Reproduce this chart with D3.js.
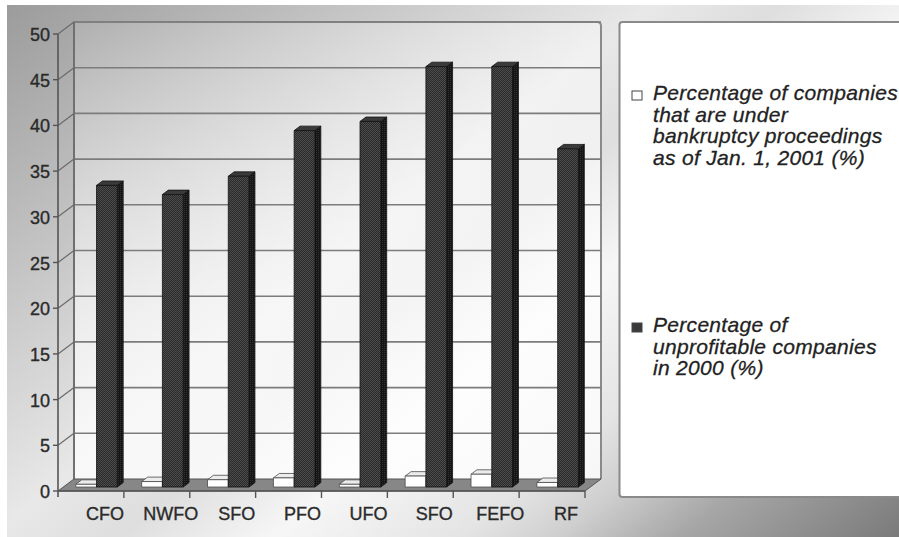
<!DOCTYPE html>
<html>
<head>
<meta charset="utf-8">
<script src="https://cdn.jsdelivr.net/npm/d3@7"></script>
<style>
  body { margin: 0; background: #ffffff; }
  svg { display: block; }
</style>
</head>
<body>
<svg id="chart" width="899" height="537"></svg>
<script>
// Federal districts and the Russian Federation total
const categories = ["CFO", "NWFO", "SFO", "PFO", "UFO", "SFO", "FEFO", "RF"];
// Companies under bankruptcy proceedings as of Jan. 1, 2001 (%)
const bankruptcyPct = [0.3, 0.6, 0.8, 1.0, 0.3, 1.2, 1.4, 0.5];
// Unprofitable companies in 2000 (%)
const unprofitablePct = [33, 32, 34, 39, 40, 46, 46, 37];
const yTicks = [0, 5, 10, 15, 20, 25, 30, 35, 40, 45, 50];
const legendLines = [
  ["Percentage of companies", "that are under", "bankruptcy proceedings", "as of Jan. 1, 2001 (%)"],
  ["Percentage of", "unprofitable companies", "in 2000 (%)"]
];

const svg = d3.select("#chart");
const W = 899, H = 537;
const FONT = "'Liberation Sans', Arial, sans-serif";

// 3-D box: front plane plus a depth offset toward the back wall
const DX = 16, DY = -12;
const frontLeft = 58, frontRight = 585;
const y = d3.scaleLinear().domain([0, 50]).range([491, 34]);
const x0 = d3.scaleBand().domain(d3.range(categories.length)).range([frontLeft, frontRight]).padding(0);
const x1 = d3.scaleBand().domain([0, 1]).range([12.5, 54]).padding(0);
const zFront = 0.33, zBack = 0.70;

const defs = svg.append("defs");

// page background: diagonal grey sheen
const bg = defs.append("linearGradient").attr("id", "bgGrad")
  .attr("gradientUnits", "userSpaceOnUse")
  .attr("x1", 0).attr("y1", 0).attr("x2", 615).attr("y2", 766);
[[0, "#9a9a9a"], [0.14, "#b4b4b4"], [0.3, "#d2d2d2"], [0.42, "#e8e8e8"],
 [0.5, "#dedede"], [0.6, "#f6f6f6"], [0.72, "#e4e4e4"], [0.78, "#cfcfcf"],
 [0.86, "#a6a6a6"], [1, "#7a7a7a"]].forEach(([o, c]) =>
  bg.append("stop").attr("offset", o).attr("stop-color", c));

// back wall: whitening toward the floor
const wall = defs.append("linearGradient").attr("id", "wallGrad")
  .attr("x1", 0).attr("y1", 0).attr("x2", 0.35).attr("y2", 1);
wall.append("stop").attr("offset", 0).attr("stop-color", "#ffffff").attr("stop-opacity", 0.1);
wall.append("stop").attr("offset", 0.6).attr("stop-color", "#ffffff").attr("stop-opacity", 0.6);
wall.append("stop").attr("offset", 1).attr("stop-color", "#ffffff").attr("stop-opacity", 0.8);

// dithered fill for the dark bars
const pf = defs.append("pattern").attr("id", "darkFront")
  .attr("patternUnits", "userSpaceOnUse").attr("width", 2).attr("height", 2);
pf.append("rect").attr("width", 2).attr("height", 2).attr("fill", "#2a2a2a");
pf.append("rect").attr("width", 1).attr("height", 1).attr("fill", "#4c4c4c");
pf.append("rect").attr("x", 1).attr("y", 1).attr("width", 1).attr("height", 1).attr("fill", "#4c4c4c");
const ps = defs.append("pattern").attr("id", "darkSide")
  .attr("patternUnits", "userSpaceOnUse").attr("width", 2).attr("height", 2);
ps.append("rect").attr("width", 2).attr("height", 2).attr("fill", "#161616");
ps.append("rect").attr("width", 1).attr("height", 1).attr("fill", "#303030");

// background
svg.append("rect").attr("width", W).attr("height", H).attr("fill", "#ffffff");
svg.append("rect").attr("x", 7).attr("y", 5).attr("width", W - 7).attr("height", H - 5)
  .attr("fill", "url(#bgGrad)");

// back wall
const wallX0 = frontLeft + DX, wallX1 = frontRight + DX;
const wallTop = y(50) + DY, wallBottom = y(0) + DY;
svg.append("path")
  .attr("d", `M${wallX0},${wallBottom} V${wallTop} H${wallX1 - 4} Q${wallX1},${wallTop} ${wallX1},${wallTop + 4} V${wallBottom}`)
  .attr("fill", "url(#wallGrad)")
  .attr("stroke", "#8a8a8a").attr("stroke-width", 2);

// gridlines on the back wall and their diagonals on the side wall
const grid = svg.append("g");
yTicks.filter(v => v > 0).forEach(v => {
  const yf = y(v);
  grid.append("line").attr("x1", wallX0).attr("x2", wallX1)
    .attr("y1", yf + DY).attr("y2", yf + DY)
    .attr("stroke", "#7c7c7c").attr("stroke-width", 1.6);
  grid.append("line").attr("x1", frontLeft).attr("y1", yf)
    .attr("x2", frontLeft + DX).attr("y2", yf + DY)
    .attr("stroke", "#6a6a6a").attr("stroke-width", 1.2);
});
svg.append("line").attr("x1", wallX0).attr("x2", wallX0)
  .attr("y1", wallTop).attr("y2", wallBottom)
  .attr("stroke", "#6a6a6a").attr("stroke-width", 1.6);

// floor
svg.append("path")
  .attr("d", `M${frontLeft},${y(0)} L${frontRight},${y(0)} L${frontRight + DX},${y(0) + DY} L${frontLeft + DX},${y(0) + DY} Z`)
  .attr("fill", "#878787").attr("stroke", "#555").attr("stroke-width", 1);

// bars
const seriesData = [bankruptcyPct, unprofitablePct];
const styles = [
  { front: "#ffffff", side: "#cfcfcf", top: "#ececec", stroke: "#4a4a4a" },
  { front: "url(#darkFront)", side: "url(#darkSide)", top: "#3a3a3a", stroke: "#111111" }
];
const barsG = svg.append("g");
categories.forEach((c, i) => {
  seriesData.forEach((vals, s) => {
    const v = vals[i];
    const st = styles[s];
    const xl = x0(i) + x1(s) + DX * zFront;
    const xr = xl + x1.bandwidth();
    const ddx = DX * (zBack - zFront), ddy = DY * (zBack - zFront);
    const yt = y(v) + DY * zFront;
    const yb = y(0) + DY * zFront;
    const g = barsG.append("g").attr("stroke", st.stroke).attr("stroke-width", 0.8).attr("stroke-linejoin", "round");
    g.append("path").attr("d", `M${xr},${yt} L${xr + ddx},${yt + ddy} L${xr + ddx},${yb + ddy} L${xr},${yb} Z`)
      .attr("fill", st.side);
    g.append("path").attr("d", `M${xl},${yt} L${xl + ddx},${yt + ddy} L${xr + ddx},${yt + ddy} L${xr},${yt} Z`)
      .attr("fill", st.top);
    g.append("rect").attr("x", xl).attr("y", yt).attr("width", xr - xl).attr("height", yb - yt)
      .attr("fill", st.front);
  });
});

// front vertical axis with ticks
svg.append("line").attr("x1", frontLeft).attr("x2", frontLeft)
  .attr("y1", y(50)).attr("y2", y(0) + 6)
  .attr("stroke", "#555").attr("stroke-width", 1.6);
const yAxisG = svg.append("g");
yTicks.forEach(v => {
  yAxisG.append("line").attr("x1", frontLeft - 5).attr("x2", frontLeft)
    .attr("y1", y(v)).attr("y2", y(v)).attr("stroke", "#555").attr("stroke-width", 1.4);
  yAxisG.append("text").attr("x", 50).attr("y", y(v) + 7)
    .attr("text-anchor", "end").attr("font-family", FONT).attr("font-size", 18)
    .attr("fill", "#2a2a2a").attr("stroke", "#2a2a2a").attr("stroke-width", 0.35)
    .text(v);
});

// front floor edge, category ticks and labels
svg.append("line").attr("x1", frontLeft).attr("x2", frontRight)
  .attr("y1", y(0)).attr("y2", y(0)).attr("stroke", "#555").attr("stroke-width", 1.4);
categories.forEach((c, i) => {
  const xe = x0(i) + x0.bandwidth();
  svg.append("line").attr("x1", xe).attr("x2", xe).attr("y1", y(0)).attr("y2", y(0) + 7)
    .attr("stroke", "#555").attr("stroke-width", 1.4);
  svg.append("text").attr("x", x0(i) + x0.bandwidth() / 2 + 14).attr("y", 520)
    .attr("text-anchor", "middle").attr("font-family", FONT).attr("font-size", 18)
    .attr("fill", "#2a2a2a").attr("stroke", "#2a2a2a").attr("stroke-width", 0.35)
    .text(c);
});

// legend
svg.append("rect").attr("x", 619.5).attr("y", 22).attr("width", 300).attr("height", 475)
  .attr("rx", 3).attr("fill", "#ffffff").attr("stroke", "#8a8a8a").attr("stroke-width", 2);
const legendTop = [100, 332];
legendLines.forEach((lines, s) => {
  svg.append("rect").attr("x", 632).attr("y", legendTop[s] - 9).attr("width", 10).attr("height", 9)
    .attr("fill", s === 0 ? "#ffffff" : "#3a3a3a").attr("stroke", "#444").attr("stroke-width", 1);
  const t = svg.append("text").attr("font-family", FONT).attr("font-size", 21)
    .attr("font-style", "italic").attr("letter-spacing", 0.3)
    .attr("fill", "#222").attr("stroke", "#222").attr("stroke-width", 0.3);
  lines.forEach((ln, k) => {
    t.append("tspan").attr("x", 653).attr("y", legendTop[s] + k * 21.5).text(ln);
  });
});
</script>
</body>
</html>
